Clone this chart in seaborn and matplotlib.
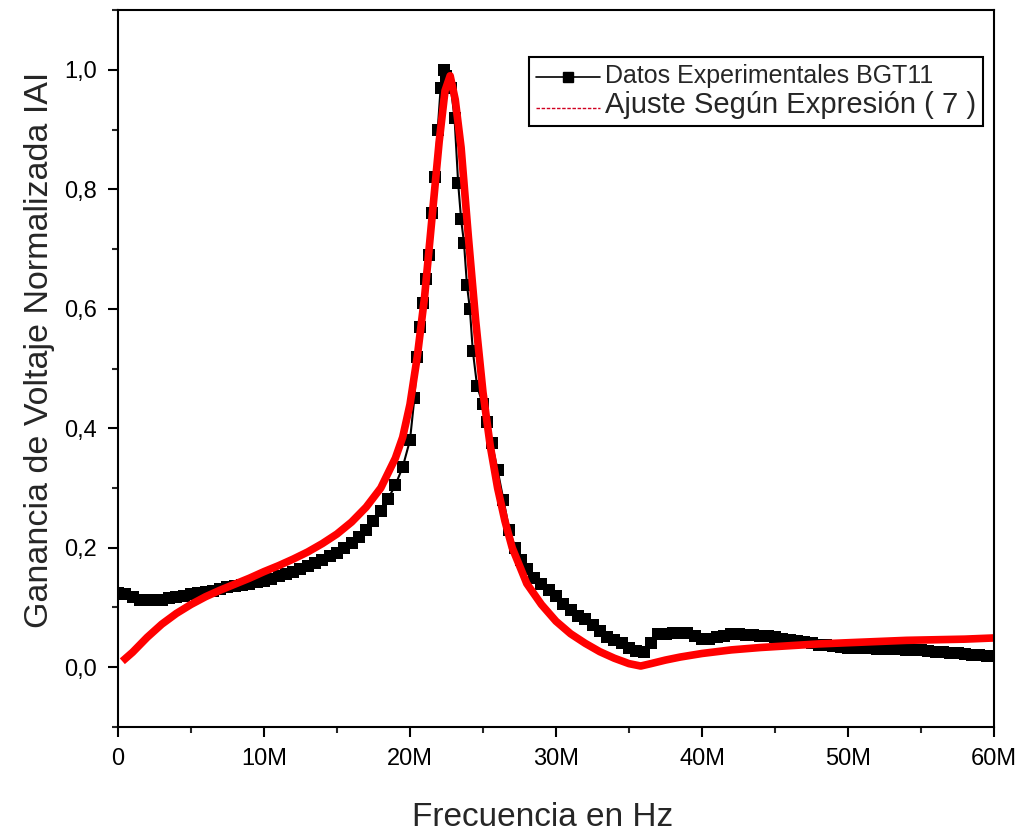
import numpy as np
import pandas as pd
import matplotlib
matplotlib.use("Agg")
import matplotlib.pyplot as plt
import seaborn as sns
from matplotlib.lines import Line2D
from matplotlib.ticker import MultipleLocator, FuncFormatter

# Datos experimentales BGT11 (frecuencia en MHz, ganancia normalizada)
frec_exp = [0.0, 0.5, 1.0, 1.5, 2.0, 2.5, 3.0, 3.5, 4.0, 4.5, 5.0, 5.5, 6.0, 6.5,
            7.0, 7.5, 8.0, 8.5, 9.0, 9.5, 10.0, 10.5, 11.0, 11.5, 12.0, 12.5,
            13.0, 13.5, 14.0, 14.5, 15.0, 15.5, 16.0, 16.5, 17.0, 17.5, 18.0,
            18.5, 19.0, 19.5, 20.0, 20.3, 20.5, 20.7, 20.9, 21.1, 21.3, 21.5,
            21.7, 21.9, 22.1, 22.3, 22.5, 22.8, 23.05, 23.3, 23.5, 23.7, 23.9,
            24.1, 24.3, 24.6, 25.0, 25.3, 25.6, 26.0, 26.4, 26.8, 27.2, 27.6,
            28.0, 28.5, 29.0, 29.5, 30.0, 30.5, 31.0, 31.5, 32.0, 32.5, 33.0,
            33.5, 34.0, 34.5, 35.0, 35.5, 36.0, 36.5, 37.0, 37.5, 38.0, 38.5,
            39.0, 39.5, 40.0, 40.5, 41.0, 41.5, 42.0, 42.5, 43.0, 43.5, 44.0,
            44.5, 45.0, 45.5, 46.0, 46.5, 47.0, 47.5, 48.0, 48.5, 49.0, 49.5,
            50.0, 50.5, 51.0, 51.5, 52.0, 52.5, 53.0, 53.5, 54.0, 54.5, 55.0,
            55.5, 56.0, 56.5, 57.0, 57.5, 58.0, 58.5, 59.0, 59.5, 60.0]
gan_exp = [0.125, 0.122, 0.118, 0.113, 0.112, 0.112, 0.113, 0.116, 0.118, 0.120,
           0.122, 0.124, 0.126, 0.128, 0.131, 0.134, 0.136, 0.138, 0.140, 0.142,
           0.145, 0.148, 0.152, 0.156, 0.160, 0.165, 0.170, 0.175, 0.180, 0.186,
           0.192, 0.200, 0.208, 0.218, 0.230, 0.245, 0.262, 0.282, 0.305, 0.335,
           0.380, 0.450, 0.520, 0.570, 0.610, 0.650, 0.690, 0.760, 0.820, 0.900,
           0.970, 1.000, 0.990, 0.970, 0.920, 0.810, 0.750, 0.710, 0.640, 0.600,
           0.530, 0.470, 0.440, 0.410, 0.375, 0.330, 0.280, 0.230, 0.200, 0.180,
           0.165, 0.150, 0.140, 0.130, 0.120, 0.105, 0.095, 0.085, 0.080, 0.070,
           0.060, 0.050, 0.045, 0.040, 0.033, 0.027, 0.025, 0.040, 0.055, 0.055,
           0.057, 0.058, 0.057, 0.052, 0.048, 0.047, 0.050, 0.053, 0.055, 0.055,
           0.054, 0.054, 0.053, 0.052, 0.050, 0.048, 0.045, 0.044, 0.042, 0.040,
           0.038, 0.037, 0.035, 0.034, 0.033, 0.033, 0.032, 0.032, 0.031, 0.031,
           0.030, 0.030, 0.029, 0.029, 0.028, 0.027, 0.026, 0.025, 0.024, 0.023,
           0.022, 0.021, 0.020, 0.019, 0.018]

# Ajuste según expresión (7)
frec_fit = [0.3, 1, 2, 3, 4, 5, 6, 7, 8, 9, 10, 11, 12, 13, 14, 15, 16, 17, 18,
            19, 19.5, 20, 20.5, 21, 21.5, 22, 22.4, 22.75, 23.1, 23.5, 24, 24.5,
            25, 25.5, 26, 26.5, 27, 27.5, 28, 29, 30, 31, 32, 33, 34, 35, 35.8,
            36.5, 37.5, 38.5, 40, 42, 44, 46, 48, 50, 52, 54, 56, 58, 60]
gan_fit = [0.010, 0.025, 0.050, 0.072, 0.090, 0.105, 0.118, 0.129, 0.139, 0.149,
           0.160, 0.170, 0.181, 0.193, 0.207, 0.223, 0.243, 0.268, 0.300, 0.350,
           0.385, 0.440, 0.520, 0.620, 0.750, 0.880, 0.965, 0.990, 0.950, 0.870,
           0.720, 0.580, 0.460, 0.370, 0.300, 0.245, 0.200, 0.170, 0.140, 0.105,
           0.077, 0.056, 0.040, 0.026, 0.015, 0.006, 0.002, 0.006, 0.012, 0.017,
           0.023, 0.029, 0.033, 0.036, 0.039, 0.041, 0.043, 0.045, 0.046, 0.047,
           0.049]

sns.set_theme(style="ticks")
plt.rcParams["font.family"] = ["Liberation Sans", "DejaVu Sans"]

fig = plt.figure(figsize=(10.23, 8.38), dpi=100)
ax = fig.add_axes([0.1153, 0.1325, 0.8564, 0.8555])

df_exp = pd.DataFrame({"f": frec_exp, "g": gan_exp})
df_fit = pd.DataFrame({"f": frec_fit, "g": gan_fit})

sns.lineplot(data=df_exp, x="f", y="g", ax=ax, color="black", linewidth=1.5,
             marker="s", markersize=8.5, markeredgewidth=0, markerfacecolor="black")
sns.lineplot(data=df_fit, x="f", y="g", ax=ax, color="#ff0000", linewidth=5.5,
             solid_capstyle="butt")

ax.set_xlim(0, 60)
ax.set_ylim(-0.1, 1.1)
ax.xaxis.set_major_locator(MultipleLocator(10))
ax.xaxis.set_minor_locator(MultipleLocator(5))
ax.yaxis.set_major_locator(MultipleLocator(0.2))
ax.yaxis.set_minor_locator(MultipleLocator(0.1))
ax.xaxis.set_major_formatter(FuncFormatter(lambda v, p: "0" if v == 0 else f"{v:g}M"))
ax.yaxis.set_major_formatter(FuncFormatter(lambda v, p: f"{v:.1f}".replace(".", ",")))

for s in ax.spines.values():
    s.set_linewidth(1.5)
    s.set_color("black")
ax.tick_params(which="major", direction="out", length=7, width=1.5,
               labelsize=17, colors="black", pad=8)
ax.tick_params(which="minor", direction="out", length=4, width=1.5)

ax.set_xlabel("Frecuencia en Hz", fontsize=24)
ax.set_ylabel("Ganancia de Voltaje Normalizada IAI", fontsize=24.5)
ax.xaxis.set_label_coords(0.485, -0.105)
ax.yaxis.set_label_coords(-0.072, 0.526)

handles = [Line2D([], [], color="black", linewidth=1.2, marker="s", markersize=7),
           Line2D([], [], color="#d00020", linewidth=1.0, linestyle=(0, (2.5, 1.2)))]
leg = ax.legend(handles, ["Datos Experimentales BGT11", "Ajuste Según Expresión ( 7 )"],
                loc="upper right", bbox_to_anchor=(0.987, 0.935), borderaxespad=0,
                fancybox=False, framealpha=1, edgecolor="black", handlelength=4.2,
                handletextpad=0.3, borderpad=0.45, labelspacing=0.25)
leg.get_frame().set_linewidth(1.5)
texts = leg.get_texts()
texts[0].set_fontsize(18)
texts[1].set_fontsize(21)

fig.savefig("out.png", dpi=100, facecolor="white")
